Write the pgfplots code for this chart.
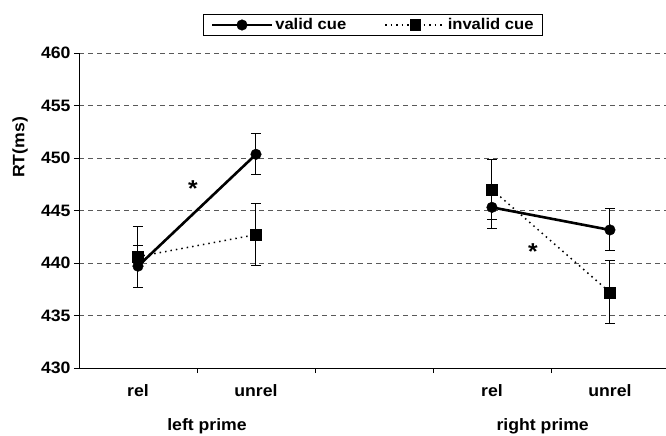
\documentclass[border=0pt]{standalone}
\usepackage{fontspec}
\setmainfont{Liberation Sans}[FakeStretch=1.07]
\usepackage{pgfplots}
\pgfplotsset{compat=1.18}
\begin{document}
\begin{tikzpicture}[font=\bfseries\fontsize{16.5bp}{18bp}\selectfont]
\begin{axis}[name=ax, scale only axis, width=587bp, height=315bp,
  xmin=-0.5, xmax=4.475, ymin=430, ymax=460,
  axis x line*=bottom, axis y line*=left,
  axis line style={black, line width=0.9bp},
  ytick={430,435,...,460},
  yticklabel style={/pgf/number format/assume math mode=true},
  xticklabel style={yshift=-8bp},
  ymajorgrids,
  grid style={gray!70!black, line width=0.8bp, dash pattern=on 5bp off 4bp},
  tick align=outside,
  tick style={black, line width=0.8bp},
  major tick length=5bp,
  xtick={0,1,3,4}, xticklabels={rel,unrel,rel,unrel},
  xtick style={draw=none},
  extra x ticks={0.5,1.5,2.5,3.5},
  extra x tick labels={},
  extra x tick style={xtick style={draw=black, line width=0.8bp}},
  clip=false,
  legend columns=2,
  legend style={at={(0.501,1)}, anchor=center, yshift=28bp, draw=black,
    font=\bfseries\fontsize{15.5bp}{17bp}\selectfont,
    line width=0.8bp, inner xsep=7bp, inner ysep=2.5bp,
    /tikz/every even column/.append style={column sep=36bp}},
  legend image code/.code={\draw[#1, mark repeat=2, mark phase=2] plot coordinates {(0bp,0bp) (30bp,0bp) (60bp,0bp)};},
  error bars/error bar style={solid, black, line width=1bp},
  error bars/error mark options={solid, black, rotate=90, mark size=5bp, line width=1bp},
]
\addplot[black, line width=2.6bp, mark=*, mark size=5.3bp, mark options={solid, line width=0.4bp},
  error bars/.cd, y dir=both, y explicit]
  coordinates {(0,439.7) +- (0,2.0) (1,450.35) +- (0,1.95)};
\addlegendentry{valid cue}
\addplot[black, line width=1.5bp, dash pattern=on 1.5bp off 4bp, mark=square*, mark size=5.3bp, mark options={solid, line width=0.4bp},
  error bars/.cd, y dir=both, y explicit]
  coordinates {(0,440.6) +- (0,2.9) (1,442.7) +- (0,2.95)};
\addlegendentry{invalid cue}
\addplot[forget plot, black, line width=2.6bp, mark=*, mark size=5.3bp, mark options={solid, line width=0.4bp},
  error bars/.cd, y dir=both, y explicit]
  coordinates {(3,445.3) +- (0,2.0) (4,443.15) +- (0,2.0)};
\addplot[forget plot, black, line width=1.5bp, dash pattern=on 1.5bp off 4bp, mark=square*, mark size=5.3bp, mark options={solid, line width=0.4bp},
  error bars/.cd, y dir=both, y explicit]
  coordinates {(3,447.0) +- (0,2.9) (4,437.2) +- (0,3.0)};
\node[inner sep=0pt, font=\bfseries\fontsize{23bp}{23bp}\selectfont] at (axis cs:0.466,447.1) {*};
\node[inner sep=0pt, font=\bfseries\fontsize{23bp}{23bp}\selectfont] at (axis cs:3.347,441.1) {*};
\node[xshift=-59bp, rotate=90] at (rel axis cs:0,0.70) {RT(ms)};
\node[yshift=-58bp] at (axis cs:0.585,430) {left prime};
\node[yshift=-58bp] at (axis cs:3.43,430) {right prime};
\end{axis}
\pgfresetboundingbox
\path[use as bounding box] ([xshift=-79bp,yshift=-68bp]ax.south west) rectangle ([yshift=53bp]ax.north east);
\end{tikzpicture}
\end{document}
